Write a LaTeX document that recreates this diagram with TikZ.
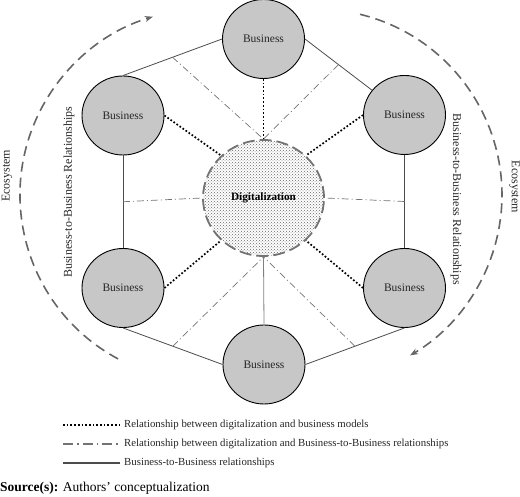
\documentclass[tikz,border=0pt]{standalone}
\usepackage{fontspec}
\setmainfont{Liberation Serif}
\usetikzlibrary{positioning, arrows.meta, shapes.geometric, patterns}

\begin{document}
\begin{tikzpicture}[x=1pt, y=1pt,
  business/.style={ellipse, draw=black, fill=black!22, line width=0.9pt, minimum width=82pt, minimum height=79pt, text=black!85, font=\fontsize{11.5}{13}\selectfont},
  digital/.style={ellipse, draw=black!55, line width=1.8pt, dash pattern=on 12pt off 5pt, preaction={fill=white}, pattern=crosshatch dots, pattern color=black!60, minimum width=121pt, minimum height=116pt, font=\fontsize{11.2}{13}\selectfont\bfseries},
  btob/.style={draw=black!70, line width=0.8pt},
  dlink/.style={draw=black, line width=1.7pt, dotted},
  dblink/.style={draw=black!55, line width=0.7pt, dash pattern=on 7pt off 3pt on 1pt off 3pt},
  eco/.style={draw=black!60, line width=1.6pt, dash pattern=on 10pt off 6pt, -{Stealth[length=8pt, width=6pt]}},
  side/.style={text=black!85, font=\fontsize{12}{14}\selectfont},
  legend/.style={inner sep=2pt, text=black!85, font=\fontsize{10.8}{12}\selectfont}
]
\useasboundingbox (0,0) rectangle (520,497);

\node[digital] (dig) at (263.5,299) {Digitalization};
\node[business] (top) at (263.5,458) {Business};
\node[business] (ul) at (123,381.5) {Business};
\node[business] (ur) at (404.5,382) {Business};
\node[business] (ll) at (123,209) {Business};
\node[business] (lr) at (404.5,209) {Business};
\node[business] (bot) at (264,132.5) {Business};

\draw[btob] (ul.north) -- coordinate[midway] (m1) (top.west);
\draw[btob] (top.east) -- coordinate[midway] (m2) (ur);
\draw[btob] (ul.south) -- coordinate[midway] (m3) (ll.north);
\draw[btob] (ur.south) -- coordinate[midway] (m4) (lr.north);
\draw[btob] (ll.south) -- coordinate[midway] (m5) (bot.west);
\draw[btob] (bot.east) -- coordinate[midway] (m6) (lr.south);
\draw[btob, draw=black!50] (dig.south) -- (bot.north);

\draw[dblink] (m1) -- (dig.north);
\draw[dblink] (m2) -- (dig.north);
\draw[dblink] (m3) -- (dig.west);
\draw[dblink] (m4) -- (dig.east);
\draw[dblink] (m5) -- (dig.south);
\draw[dblink] (m6) -- (dig.south);

\draw[dlink] (top.south) -- (dig.north);
\draw[dlink] (ul.east) -- (dig.135);
\draw[dlink] (ur.west) -- (dig.45);
\draw[dlink] (ll.east) -- (dig.225);
\draw[dlink] (lr.west) -- (dig.315);

\coordinate (e1) at (118.1,138.1);
\coordinate (e2) at (360.0,482.7);
\draw[eco] (e1) arc[start angle=241.8, end angle=106.6, radius=186];
\draw[eco] (e2) arc[start angle=76.3, end angle=-59.6, radius=186];

\node[side, rotate=90] (ecol) at (7,321) {Ecosystem};
\node[side, rotate=90] (rell) at (69,304.5) {Business-to-Business Relationships};
\node[side, rotate=-90] (ecor) at (514.5,310) {Ecosystem};
\node[side, rotate=-90] (relr) at (456,297.5) {Business-to-Business Relationships};

\node[legend, anchor=west] (t1) at (122,72) {Relationship between digitalization and business models};
\node[legend, below=19pt of t1.west, anchor=west] (t2) {Relationship between digitalization and Business-to-Business relationships};
\node[legend, below=19pt of t2.west, anchor=west] (t3) {Business-to-Business relationships};
\coordinate (k1) at (63,72);
\coordinate (k2) at (t2.west -| k1);
\coordinate (k3) at (t3.west -| k1);
\draw[dlink, shorten >=2pt] (k1) -- (t1.west);
\draw[dblink, line width=1.3pt, dash pattern=on 10pt off 4pt on 1.5pt off 4pt, shorten >=2pt] (k2) -- (t2.west);
\draw[btob, line width=1.2pt, shorten >=2pt] (k3) -- (t3.west);

\node[anchor=west, inner sep=0pt, font=\fontsize{13.5}{15}\selectfont] (src) at (0,9) {\textbf{Source(s):} Authors' conceptualization};

\end{tikzpicture}
\end{document}
